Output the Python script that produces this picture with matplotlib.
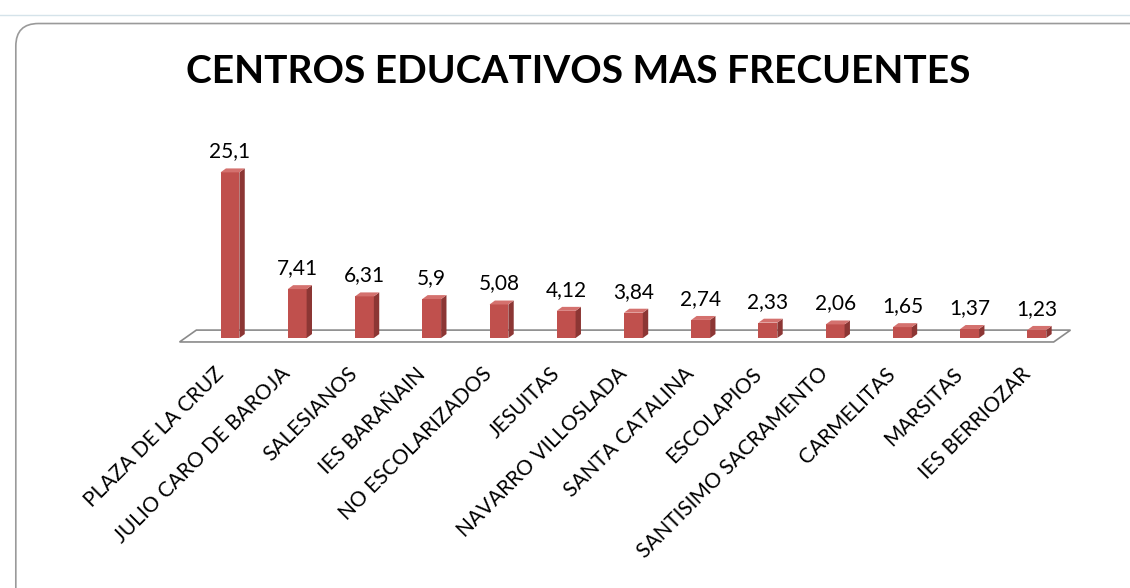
import matplotlib
matplotlib.use("Agg")

import matplotlib.pyplot as plt
from matplotlib.patches import FancyBboxPatch, Polygon

# ── Data ──────────────────────────────────────────────────────────────────────
CENTROS = [
    "PLAZA DE LA CRUZ", "JULIO CARO DE BAROJA", "SALESIANOS", "IES BARAÑAIN",
    "NO ESCOLARIZADOS", "JESUITAS", "NAVARRO VILLOSLADA", "SANTA CATALINA",
    "ESCOLAPIOS", "SANTISIMO SACRAMENTO", "CARMELITAS", "MARSITAS",
    "IES BERRIOZAR",
]
PORCENTAJES = [25.1, 7.41, 6.31, 5.9, 5.08, 4.12, 3.84, 2.74, 2.33, 2.06,
               1.65, 1.37, 1.23]
TITULO = "CENTROS EDUCATIVOS MAS FRECUENTES"

FRONT = "#C0504D"
SIDE = "#8C3634"
TOP = "#D4716E"
FONT = "Lato"

# ── Figure ────────────────────────────────────────────────────────────────────
fig = plt.figure(figsize=(11.3, 5.88), dpi=100)

# chart frame (rounded, like the Excel chart area)
frame = FancyBboxPatch((0.014, -0.04), 1.05, 1.0, boxstyle="round,pad=0,rounding_size=0.02",
                       transform=fig.transFigure, fc="white", ec="#9a9a9a", lw=1.2,
                       mutation_aspect=1130 / 588, zorder=-1)
fig.patches.append(frame)
fig.add_artist(plt.Line2D([0, 1], [0.975, 0.975], color="#d5e3ea", lw=1,
                          transform=fig.transFigure, zorder=-1))

fig.text(0.512, 0.878, TITULO, ha="center", va="center", fontsize=28,
         fontweight="bold", family=FONT)

# axes: x = category index, y = percentage
ax = fig.add_axes([0.144, 0.4027, 0.845, 0.3367])
ax.set_xlim(-1, 13.2)
ax.set_ylim(-2, 28)
ax.axis("off")

n = len(PORCENTAJES)
w = 0.28      # front face width
dx = 0.08     # depth offset (x)
dy = 0.6      # depth offset (y)

# floor
floor = Polygon([(-0.75, -0.6), (n - 0.75, -0.6), (n - 0.5, 1.2), (-0.5, 1.2)],
                closed=True, fc="white", ec="#8a8a8a", lw=1.2, zorder=1)
ax.add_patch(floor)

bars = ax.bar(range(n), PORCENTAJES, width=w, color=FRONT, zorder=3)
for i, v in enumerate(PORCENTAJES):
    x0, x1 = i - w / 2, i + w / 2
    ax.add_patch(Polygon([(x1, 0), (x1 + dx, dy), (x1 + dx, v + dy), (x1, v)],
                         closed=True, fc=SIDE, ec="none", zorder=3))
    ax.add_patch(Polygon([(x0, v), (x1, v), (x1 + dx, v + dy), (x0 + dx, v + dy)],
                         closed=True, fc=TOP, ec="none", zorder=3))
    ax.annotate(str(v).replace(".", ","), (i, v + dy), xytext=(0, 5),
                textcoords="offset points", ha="center", va="bottom",
                fontsize=15, family=FONT)
    ax.text(i - 0.25, -3.9, CENTROS[i], rotation=45, rotation_mode="anchor",
            ha="right", va="top", fontsize=15, family=FONT)

plt.savefig("out.png", dpi=100)
